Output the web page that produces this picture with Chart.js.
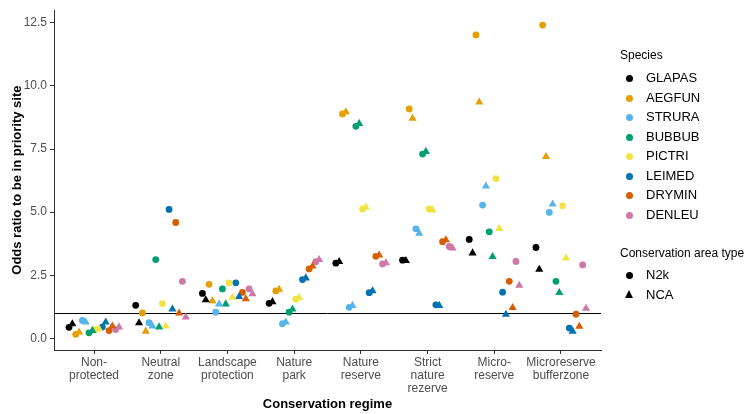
<!DOCTYPE html>
<html>
<head>
<meta charset="utf-8">
<script src="https://cdn.jsdelivr.net/npm/chart.js@4"></script>
<style>
    body { margin: 0; background: #fff; font-family: 'Liberation Sans', Arial, sans-serif; }
    #wrap { position: relative; width: 748px; height: 414px; overflow: hidden; }
    #chart { position: absolute; left: 0; top: 0; }
    .legend { position: absolute; left: 620px; top: 0; width: 128px; color: #000; font-size: 13px; }
    .legend .title { position: absolute; left: 0; white-space: nowrap; font-size: 12px; }
    .legend .item { position: absolute; left: 6px; white-space: nowrap; height: 16px; line-height: 16px; }
    .legend .item span { position: absolute; left: 20px; top: 0; }
    .dot { position: absolute; left: 0; top: 5px; width: 7px; height: 7px; border-radius: 50%; }
    .tri { position: absolute; left: -1px; top: 3px; width: 0; height: 0;
           border-left: 4.5px solid transparent; border-right: 4.5px solid transparent; border-bottom: 8px solid #000; }
</style>
</head>
<body>
<div id="wrap">
    <canvas id="chart" width="748" height="414"></canvas>
    <div class="legend" id="legend"></div>
</div>
<script>
const categories = [
    ['Non-', 'protected'],
    ['Neutral', 'zone'],
    ['Landscape', 'protection'],
    ['Nature', 'park'],
    ['Nature', 'reserve'],
    ['Strict', 'nature', 'rezerve'],
    ['Micro-', 'reserve'],
    ['Microreserve', 'bufferzone']
];
const species = ['GLAPAS', 'AEGFUN', 'STRURA', 'BUBBUB', 'PICTRI', 'LEIMED', 'DRYMIN', 'DENLEU'];
const speciesColors = ['#000000', '#E69F00', '#56B4E9', '#009E73', '#F0E442', '#0072B2', '#D55E00', '#CC79A7'];
const areaTypes = ['N2k', 'NCA'];
const yTicks = [0, 2.5, 5, 7.5, 10, 12.5];

// odds ratios per conservation regime (same order as categories)
const glapasN2k = [0.44, 1.31, 1.78, 1.39, 2.98, 3.10, 3.92, 3.60];
const glapasNca = [0.57, 0.61, 1.52, 1.45, 3.04, 3.08, 3.38, 2.73];
const aegfunN2k = [0.16, 1.01, 2.14, 1.88, 8.89, 9.09, 12.02, 12.41];
const aegfunNca = [0.25, 0.28, 1.48, 1.94, 8.97, 8.71, 9.36, 7.20];
const struraN2k = [0.71, 0.62, 1.04, 0.58, 1.23, 4.34, 5.28, 4.99];
const struraNca = [0.64, 0.48, 1.36, 0.64, 1.30, 4.16, 6.03, 5.32];
const bubbubN2k = [0.22, 3.12, 1.96, 1.04, 8.40, 7.30, 4.22, 2.26];
const bubbubNca = [0.31, 0.45, 1.36, 1.16, 8.51, 7.40, 3.24, 1.81];
const pictriN2k = [0.35, 1.38, 2.20, 1.55, 5.13, 5.13, 6.33, 5.25];
const pictriNca = [0.38, 0.48, 1.62, 1.61, 5.20, 5.08, 4.35, 3.18];
const leimedN2k = [0.45, 5.11, 2.20, 2.33, 1.81, 1.33, 1.83, 0.41];
const leimedNca = [0.64, 1.16, 1.65, 2.39, 1.88, 1.30, 0.95, 0.28];
const dryminN2k = [0.31, 4.59, 1.82, 2.75, 3.25, 3.83, 2.26, 0.96];
const dryminNca = [0.48, 1.00, 1.56, 2.86, 3.30, 3.90, 1.22, 0.47];
const denleuN2k = [0.35, 2.26, 1.96, 3.04, 2.95, 3.64, 3.05, 2.91];
const denleuNca = [0.45, 0.84, 1.76, 3.12, 2.99, 3.57, 2.10, 1.19];
const referenceLine = 1;

const n2kSeries = [glapasN2k, aegfunN2k, struraN2k, bubbubN2k, pictriN2k, leimedN2k, dryminN2k, denleuN2k];
const ncaSeries = [glapasNca, aegfunNca, struraNca, bubbubNca, pictriNca, leimedNca, dryminNca, denleuNca];

const FONT = "'Liberation Sans', Arial, sans-serif";
const DODGE = 0.05; // ggplot-like position_dodge, 16 groups over 0.8

const datasets = [];
species.forEach((sp, s) => {
    [n2kSeries[s], ncaSeries[s]].forEach((vals, t) => {
        datasets.push({
            label: sp + ' ' + areaTypes[t],
            data: vals.map((v, i) => ({ x: i + 1 + (2 * s + t - 7.5) * DODGE, y: v })),
            pointStyle: t === 0 ? 'circle' : 'triangle',
            pointRadius: t === 0 ? 3.4 : 4.7,
            pointHoverRadius: t === 0 ? 3.4 : 4.7,
            backgroundColor: speciesColors[s],
            borderColor: speciesColors[s],
            borderWidth: 0
        });
    });
});

const refLinePlugin = {
    id: 'refLine',
    beforeDatasetsDraw(chart) {
        const { ctx, chartArea, scales } = chart;
        const y = Math.round(scales.y.getPixelForValue(referenceLine)) + 0.5;
        ctx.save();
        ctx.strokeStyle = '#000';
        ctx.lineWidth = 1;
        ctx.beginPath();
        ctx.moveTo(chartArea.left, y);
        ctx.lineTo(chartArea.right, y);
        ctx.stroke();
        ctx.restore();
    }
};

new Chart(document.getElementById('chart'), {
    type: 'scatter',
    data: { datasets },
    plugins: [refLinePlugin],
    options: {
        responsive: false,
        animation: false,
        layout: { padding: { left: 0, right: 147, top: 4, bottom: 0 } },
        plugins: { legend: { display: false }, tooltip: { enabled: false } },
        scales: {
            x: {
                type: 'linear',
                min: 0.4,
                max: 8.6,
                afterBuildTicks: scale => { scale.ticks = categories.map((c, i) => ({ value: i + 1 })); },
                afterFit: scale => { scale.height = 64; },
                ticks: {
                    callback: (v) => categories[Math.round(v) - 1],
                    color: '#4D4D4D',
                    font: { family: FONT, size: 12, lineHeight: 1.1 },
                    padding: 2,
                    maxRotation: 0,
                    autoSkip: false
                },
                grid: { drawOnChartArea: false, drawTicks: true, tickLength: 4, color: '#333' },
                border: { display: true, color: '#333', width: 1 },
                title: {
                    display: true,
                    text: 'Conservation regime',
                    color: '#000',
                    font: { family: FONT, size: 13, weight: 'bold' },
                    padding: { top: 0, bottom: 2 }
                }
            },
            y: {
                min: -0.46,
                max: 13.0,
                afterBuildTicks: scale => { scale.ticks = yTicks.map(v => ({ value: v })); },
                afterFit: scale => { scale.width = 54; },
                ticks: {
                    callback: v => v.toFixed(1),
                    color: '#4D4D4D',
                    font: { family: FONT, size: 12 },
                    padding: 3
                },
                grid: { drawOnChartArea: false, drawTicks: true, tickLength: 4, color: '#333' },
                border: { display: true, color: '#333', width: 1 },
                title: {
                    display: true,
                    text: 'Odds ratio to be in priority site',
                    color: '#000',
                    font: { family: FONT, size: 13, weight: 'bold' },
                    padding: { top: 10, bottom: 0 }
                }
            }
        }
    }
});

// two-part legend as on the original
const legend = document.getElementById('legend');
function addTitle(text, top) {
    const d = document.createElement('div');
    d.className = 'title';
    d.style.top = top + 'px';
    d.textContent = text;
    legend.appendChild(d);
}
function addItem(text, top, color, shape) {
    const d = document.createElement('div');
    d.className = 'item';
    d.style.top = top + 'px';
    const m = document.createElement('i');
    m.className = shape === 'triangle' ? 'tri' : 'dot';
    if (shape === 'triangle') m.style.borderBottomColor = color; else m.style.background = color;
    const t = document.createElement('span');
    t.textContent = text;
    d.appendChild(m);
    d.appendChild(t);
    legend.appendChild(d);
}
addTitle('Species', 48);
species.forEach((sp, i) => addItem(sp, 70 + i * 19.5, speciesColors[i], 'circle'));
addTitle('Conservation area type', 246);
addItem(areaTypes[0], 267, '#000', 'circle');
addItem(areaTypes[1], 287, '#000', 'triangle');
</script>
</body>
</html>
